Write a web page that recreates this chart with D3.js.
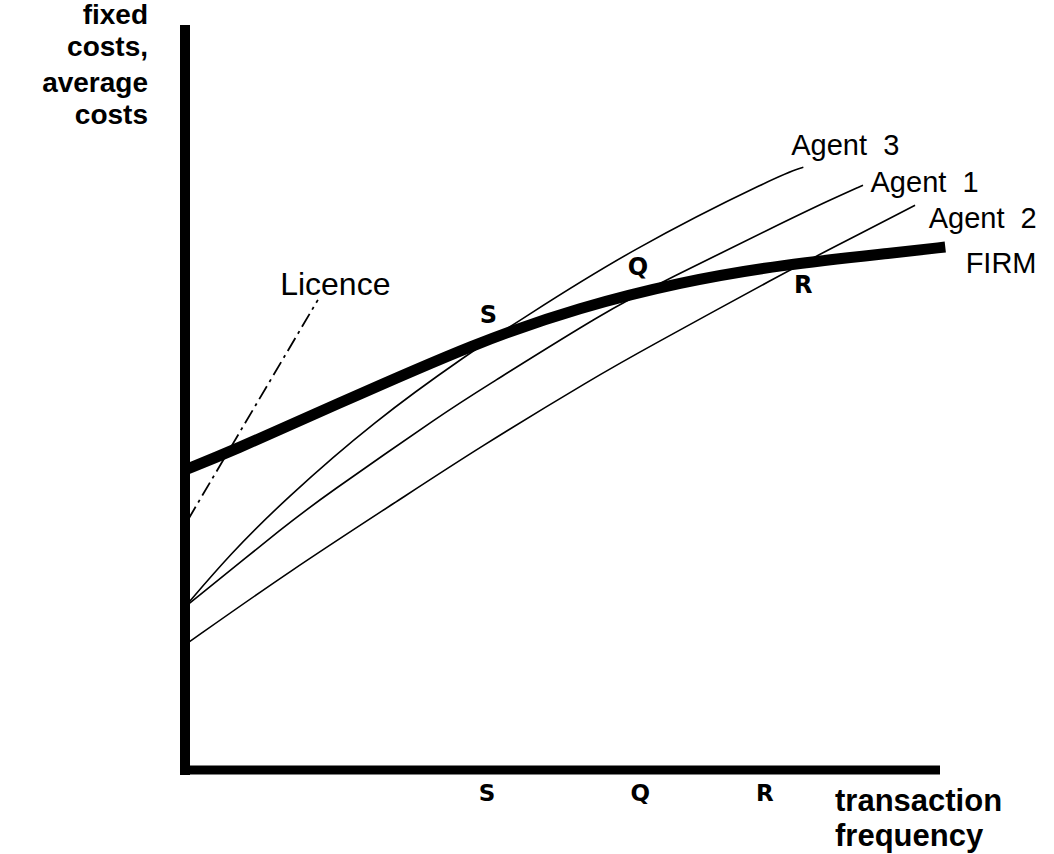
<!DOCTYPE html>
<html>
<head>
<meta charset="utf-8">
<script src="https://cdn.jsdelivr.net/npm/d3@7"></script>
<style>
body{margin:0;background:#fff;}
svg{display:block;}
text{white-space:pre;}
</style>
</head>
<body>
<div id="chart"></div>
<script>
// curves: x = transaction frequency, y = cost (0-100 both)
var firmX=[0,6,19.2,39.1,52.3,65.6,78.8,94.7,100.7];
var firmY=[40.3,42.7,48.7,57.6,62.1,65.5,67.8,69.5,70.2];
var agent3X=[0,6,13.1,25,37.7,44.4,58.9,78.8,81.9];
var agent3Y=[21.9,29.0,36.2,46.8,56.0,60.4,69.8,79.9,80.9];
var agent1X=[0,14.3,17.7,35.1,39.1,55.9,63.8,78.8,85.4,89.8];
var agent1Y=[21.9,33.6,36.2,48.5,51.0,61.7,65.8,73.3,76.5,78.5];
var agent2X=[0,14,28.3,38.5,54.4,61.1,79.5,85.2,96.7];
var agent2Y=[16.8,26.8,36.2,43.0,52.8,56.6,66.8,69.8,75.8];
var licenceX=[0.4,17.6];
var licenceY=[33.6,63.1];
var pointLbl=["S","Q","R"];
var pointX=[40.2,60.0,81.9];
var pointY=[60.0,66.4,64.0];
var tickLbl=["S","Q","R"];
var tickX=[40.0,60.3,76.8];
var curveLbl=["Agent  3","Agent  1","Agent  2","FIRM","Licence"];
var curveLblX=[80.3,90.8,98.5,103.4,12.6];
var curveLblY=[82.6,77.6,72.8,66.7,63.8];
var yTitle=["fixed","costs,","average","costs"];
var xTitle=["transaction","frequency"];

var ww=1054,hh=854;
var x=d3.scaleLinear().domain([0,100]).range([185,940]),
    y=d3.scaleLinear().domain([0,100]).range([770,25]);
var vis=d3.select("#chart").append("svg")
          .attr("width",ww)
          .attr("height",hh);
var line=d3.line().x(function(d){return x(d[0]);}).y(function(d){return y(d[1]);})
           .curve(d3.curveBasis);
function pts(xs,ys){return xs.map(function(v,i){return [v,ys[i]];});}

// thin agent curves
[[agent3X,agent3Y],[agent1X,agent1Y],[agent2X,agent2Y]].forEach(function(c){
  vis.append("path").attr("d",line(pts(c[0],c[1])))
     .attr("fill","none").attr("stroke","#000").attr("stroke-width",1.6);
});
// licence, dash-dot
vis.append("path").attr("d",line(pts(licenceX,licenceY)))
   .attr("fill","none").attr("stroke","#000").attr("stroke-width",1.8)
   .attr("stroke-dasharray","15,5,3,5");
// firm, heavy
vis.append("path").attr("d",line(pts(firmX,firmY)))
   .attr("fill","none").attr("stroke","#000").attr("stroke-width",11);

// axes
vis.append("line").attr("x1",x(0)).attr("x2",x(0))
   .attr("y1",y(100)).attr("y2",y(0)+5)
   .attr("stroke","#000").attr("stroke-width",10);
vis.append("line").attr("x1",x(0)-5).attr("x2",x(100))
   .attr("y1",y(0)).attr("y2",y(0))
   .attr("stroke","#000").attr("stroke-width",9);

// curve labels
vis.selectAll("text.clbl").data(curveLbl).enter().append("text")
   .attr("class","clbl")
   .attr("x",function(d,i){return x(curveLblX[i]);})
   .attr("y",function(d,i){return y(curveLblY[i]);})
   .attr("font-family","Liberation Sans, Arial, sans-serif")
   .attr("font-size",function(d,i){return i==4?32:29;})
   .text(function(d){return d;});

// S Q R on the chart
vis.selectAll("text.plbl").data(pointLbl).enter().append("text")
   .attr("class","plbl")
   .attr("x",function(d,i){return x(pointX[i]);})
   .attr("y",function(d,i){return y(pointY[i]);})
   .attr("text-anchor","middle")
   .attr("font-family","DejaVu Sans, sans-serif")
   .attr("font-weight","bold")
   .attr("font-size",24)
   .text(function(d){return d;});

// S Q R under the axis
vis.selectAll("text.tlbl").data(tickLbl).enter().append("text")
   .attr("class","tlbl")
   .attr("x",function(d,i){return x(tickX[i]);})
   .attr("y",y(0)+31)
   .attr("text-anchor","middle")
   .attr("font-family","DejaVu Sans, sans-serif")
   .attr("font-weight","bold")
   .attr("font-size",23)
   .text(function(d){return d;});

// axis titles
var ytY=[24,56,92,124];
vis.selectAll("text.ytl").data(yTitle).enter().append("text")
   .attr("class","ytl")
   .attr("x",148)
   .attr("y",function(d,i){return ytY[i];})
   .attr("text-anchor","end")
   .attr("font-family","Liberation Sans, Arial, sans-serif")
   .attr("font-weight","bold")
   .attr("font-size",28)
   .text(function(d){return d;});
vis.selectAll("text.xtl").data(xTitle).enter().append("text")
   .attr("class","xtl")
   .attr("x",835)
   .attr("y",function(d,i){return 811+i*35;})
   .attr("font-family","Liberation Sans, Arial, sans-serif")
   .attr("font-weight","bold")
   .attr("font-size",31)
   .text(function(d){return d;});
</script>
</body>
</html>
